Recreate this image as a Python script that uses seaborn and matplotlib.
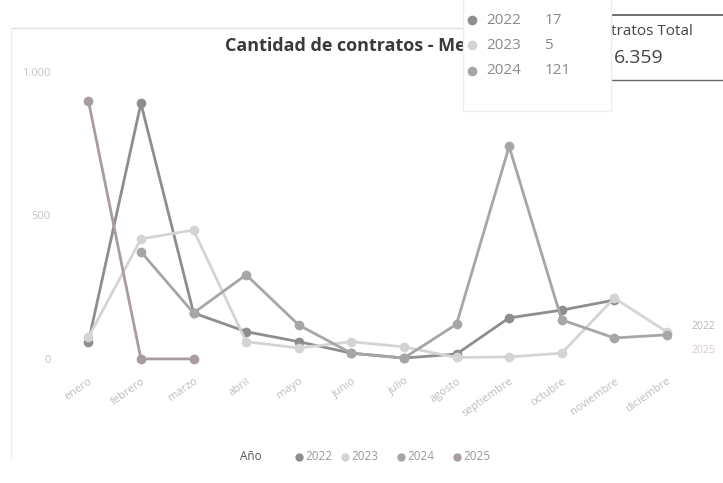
# recreating the "Cantidad de contratos - Mes" line chart
import numpy as np
import matplotlib.pyplot as plt
import seaborn as sns
import pandas as pd
from matplotlib.patches import Rectangle
from matplotlib.lines import Line2D

# data
meses = ['enero', 'febrero', 'marzo', 'abril', 'mayo', 'junio', 'julio',
         'agosto', 'septiembre', 'octubre', 'noviembre', 'diciembre']
anios = ['2022', '2023', '2024', '2025']

v2022 = [58, 890, 160, 95, 60, 20, 3, 17, 143, 170, 205, np.nan]
v2023 = [75, 418, 449, 60, 38, 60, 42, 5, 7, 20, 212, 94]
v2024 = [np.nan, 373, 160, 293, 118, 20, 3, 121, 740, 136, 73, 84]
v2025 = [900, 0, 0] + [np.nan] * 9

tooltip_anios = ['2022', '2023', '2024']
tooltip_vals = ['17', '5', '121']
total_txt = '6.359'

colores = {'2022': '#8e8e8e', '2023': '#d4d4d4', '2024': '#a6a6a6', '2025': '#a99ca0'}

# long table for seaborn
rows = []
for a, vals in zip(anios, [v2022, v2023, v2024, v2025]):
    for i, v in enumerate(vals):
        rows.append({'Año': a, 'mes': i, 'contratos': v})
df = pd.DataFrame(rows).dropna()

sns.set_style('white')
plt.rcParams['font.family'] = ['Open Sans', 'DejaVu Sans']

fig = plt.figure(figsize=(7.23, 4.83), dpi=100)
ax = fig.add_axes([0.0858, 0.245, 0.873, 0.636])

sns.lineplot(data=df, x='mes', y='contratos', hue='Año', hue_order=anios,
             palette=colores, marker='o', markersize=7, linewidth=2,
             markeredgewidth=0, ax=ax, legend=False)
for ln in ax.lines:
    ln.set_clip_on(False)

ax.set_xlim(-0.5, 11.5)
ax.set_ylim(-20, 1050)
ax.set_xticks(range(12))
ax.set_xticklabels(meses, rotation=35, ha='right', rotation_mode='anchor',
                   color='#bdbdbd', fontsize=8)
ax.set_yticks([0, 500, 1000])
ax.set_yticklabels(['0', '500', '1.000'], color='#c4c4c4', fontsize=8)
ax.tick_params(length=0, pad=8)
ax.set_xlabel('')
ax.set_ylabel('')
sns.despine(ax=ax, left=True, bottom=True)

# title
fig.text(0.311, 0.905, 'Cantidad de contratos - Mes', fontsize=13,
         fontweight='bold', color='#3a3a3a', va='center')

# faint frame line at top and left
fig.add_artist(Line2D([0.015, 0.64], [0.942, 0.942], color='#dddddd', lw=1))
fig.add_artist(Line2D([0.015, 0.015], [0.05, 0.942], color='#eeeeee', lw=1))

# total card behind the tooltip
fig.add_artist(Line2D([0.78, 1.0], [0.968, 0.968], color='#555555', lw=1.2, zorder=4))
fig.add_artist(Line2D([0.84, 1.0], [0.834, 0.834], color='#666666', lw=1, zorder=4))
fig.text(0.806, 0.935, 'Contratos Total', fontsize=11, color='#444444',
         va='center', zorder=4)
fig.text(0.849, 0.88, total_txt, fontsize=14, color='#444444', va='center', zorder=4)

# tooltip box
fig.add_artist(Rectangle((0.64, 0.77), 0.205, 0.235, transform=fig.transFigure,
                         facecolor='white', edgecolor='#eeeeee', lw=1, zorder=5))
for k, (a, v) in enumerate(zip(tooltip_anios, tooltip_vals)):
    y = 0.958 - k * 0.052
    fig.add_artist(Line2D([0.653], [y], marker='o', markersize=7, color=colores[a],
                          markeredgewidth=0, zorder=6))
    fig.text(0.673, y, a, fontsize=11, color='#8a8a8a', va='center', zorder=6)
    fig.text(0.753, y, v, fontsize=11, color='#8a8a8a', va='center', zorder=6)

# labels at the right edge
fig.text(0.956, 0.325, '2022', fontsize=7.5, color='#b5b5b5', va='center')
fig.text(0.956, 0.275, '2025', fontsize=7.5, color='#e0c8cc', va='center')

# legend at the bottom
fig.text(0.332, 0.054, 'Año', fontsize=8.5, color='#555555', va='center')
leg_x = [0.413, 0.477, 0.554, 0.632]
for a, x in zip(anios, leg_x):
    fig.add_artist(Line2D([x], [0.054], marker='o', markersize=6, color=colores[a],
                          markeredgewidth=0))
    fig.text(x + 0.009, 0.054, a, fontsize=8.5, color='#9a9a9a', va='center')

fig.savefig('out.png', dpi=100, facecolor='white')
